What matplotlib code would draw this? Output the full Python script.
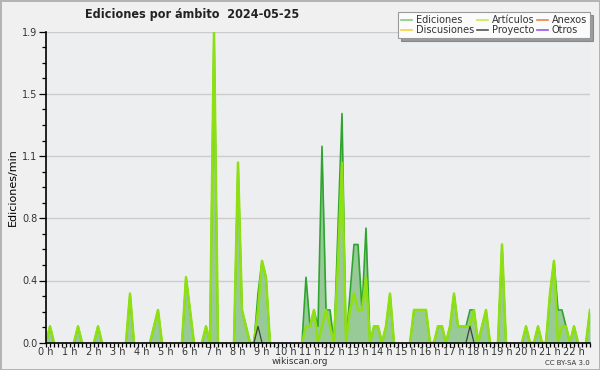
import numpy as np
import matplotlib
matplotlib.use("Agg")
import matplotlib.pyplot as plt
from matplotlib.lines import Line2D
from matplotlib.ticker import FixedLocator, FuncFormatter

# 10-minute bins from 00:00 to 22:40, edits per minute
N_BINS = 137
ediciones_pts = {
    1: 0.1, 8: 0.1, 13: 0.1, 21: 0.3, 27: 0.1, 28: 0.2, 35: 0.4, 36: 0.2,
    40: 0.1, 42: 1.9, 48: 1.1, 49: 0.2, 50: 0.1, 53: 0.3, 54: 0.5, 55: 0.4,
    65: 0.4, 66: 0.1, 67: 0.2, 68: 0.1, 69: 1.2, 70: 0.2, 71: 0.2,
    73: 0.7, 74: 1.4, 76: 0.3, 77: 0.6, 78: 0.6, 79: 0.2, 80: 0.7,
    82: 0.1, 83: 0.1, 85: 0.1, 86: 0.3, 92: 0.2, 93: 0.2, 94: 0.2, 95: 0.2,
    98: 0.1, 99: 0.1, 101: 0.1, 102: 0.3, 103: 0.1, 104: 0.1, 105: 0.1,
    106: 0.2, 107: 0.2, 109: 0.1, 110: 0.2, 114: 0.6, 120: 0.1, 123: 0.1,
    126: 0.3, 127: 0.5, 128: 0.2, 129: 0.2, 130: 0.1, 132: 0.1, 136: 0.2,
}
articulos_pts = {
    1: 0.1, 8: 0.1, 13: 0.1, 21: 0.3, 27: 0.1, 28: 0.2, 35: 0.4, 36: 0.2,
    40: 0.1, 42: 1.9, 48: 1.1, 49: 0.2, 50: 0.1, 53: 0.2, 54: 0.5, 55: 0.4,
    65: 0.1, 66: 0.1, 67: 0.2, 69: 0.1, 70: 0.2, 71: 0.1,
    73: 0.5, 74: 1.1, 76: 0.2, 77: 0.3, 78: 0.2, 79: 0.2, 80: 0.4,
    82: 0.1, 83: 0.1, 85: 0.1, 86: 0.3, 92: 0.2, 93: 0.2, 94: 0.2, 95: 0.2,
    98: 0.1, 99: 0.1, 101: 0.1, 102: 0.3, 103: 0.1, 104: 0.1, 105: 0.1,
    106: 0.1, 107: 0.2, 109: 0.1, 110: 0.2, 114: 0.6, 120: 0.1, 123: 0.1,
    126: 0.3, 127: 0.5, 129: 0.1, 130: 0.1, 132: 0.1, 136: 0.2,
}
proyecto_pts = {53: 0.1, 106: 0.1}

hour_labels = [f"{h} h" for h in range(23)]
legend_labels = ["Ediciones", "Discusiones", "Artículos", "Proyecto", "Anexos", "Otros"]
legend_colors = ["#7fcf7f", "#f5d142", "#c5ec4a", "#555555", "#f08050", "#9955ee"]


def serie(pts):
    y = np.zeros(N_BINS)
    for k, v in pts.items():
        y[k] = v
    return y


def sin_ceros(y):
    # hide runs that sit flat on the baseline
    y = y.astype(float).copy()
    prev = np.r_[0, y[:-1]]
    nxt = np.r_[y[1:], 0]
    y[(y == 0) & (prev == 0) & (nxt == 0)] = np.nan
    return y


x = np.arange(N_BINS) / 6.0
tot = serie(ediciones_pts)
art = serie(articulos_pts)
proy = serie(proyecto_pts)

fig = plt.figure(figsize=(6, 3.7), dpi=100)
fig.patch.set_facecolor("#f0f0f0")
fig.patch.set_edgecolor("#b4b4b4")
fig.patch.set_linewidth(2)
ax = fig.add_axes([46 / 600, 1 - 342.7 / 370, 544 / 600, 311 / 370])
ax.set_facecolor("#eceef0")

ax.fill_between(x, tot, color="#8fc68f", alpha=0.9, lw=0, zorder=1)
ax.plot(x, sin_ceros(tot), color="#2fa52f", lw=1.2, zorder=2)
ax.plot(x, sin_ceros(art), color="#8fe010", lw=1.8, zorder=3)
ax.plot(x, sin_ceros(proy), color="#404040", lw=0.9, zorder=4)

ax.set_xlim(0, (N_BINS - 1) / 6.0)
ax.set_ylim(0, 1.9)
yt = np.linspace(0, 1.9, 6)
ax.yaxis.set_major_locator(FixedLocator(yt))
ax.yaxis.set_minor_locator(FixedLocator(np.linspace(0, 1.9, 21)))
ax.yaxis.set_major_formatter(FuncFormatter(lambda v, p: f"{v:.1f}"))
ax.set_xticks(range(23))
ax.set_xticklabels(hour_labels)
ax.xaxis.set_minor_locator(FixedLocator(np.arange(0, N_BINS) / 6.0))
ax.tick_params(axis="both", which="both", direction="out", colors="black",
               labelcolor="#333333", labelsize=7, width=0.9)
ax.tick_params(axis="x", which="both", length=3, pad=0)
ax.tick_params(axis="y", which="major", length=5, pad=1)
ax.tick_params(axis="y", which="minor", length=3)
ax.grid(axis="y", which="major", color="#cccccc", lw=1)
ax.set_axisbelow(True)
for s in ("top", "right"):
    ax.spines[s].set_visible(False)
for s in ("left", "bottom"):
    ax.spines[s].set_linewidth(1.2)
    ax.spines[s].set_zorder(5)
ax.set_ylabel("Ediciones/min", fontsize=8)
ax.yaxis.set_label_coords(-0.052, 0.5)

handles = [Line2D([], [], color=c, lw=1.2) for c in legend_colors]
leg = ax.legend(handles, legend_labels, ncol=3, loc="upper right",
                bbox_to_anchor=(590 / 600, 1 - 12 / 370), bbox_transform=fig.transFigure,
                fontsize=7, frameon=True, fancybox=False, shadow=True,
                handlelength=1.1, handletextpad=0.4, columnspacing=0.3,
                labelspacing=0.05, borderpad=0.3, borderaxespad=0)
leg.get_frame().set_facecolor("#fbfbfb")
leg.get_frame().set_edgecolor("#999999")
leg.get_frame().set_linewidth(0.8)
for t in leg.get_texts():
    t.set_color("#333333")

fig.text(85 / 600, 1 - 18 / 370, "Ediciones por ámbito  2024-05-25", fontsize=9,
         fontweight="bold", fontstretch="condensed", color="#222222", va="baseline")
fig.text(300 / 600, 1 - 362 / 370, "wikiscan.org", fontsize=6.5, color="#333333",
         ha="center", va="center")
fig.text(590 / 600, 1 - 363 / 370, "CC BY-SA 3.0", fontsize=5, color="#333333",
         ha="right", va="center")

fig.savefig("out.png", dpi=100, facecolor=fig.get_facecolor(), edgecolor=fig.get_edgecolor())
